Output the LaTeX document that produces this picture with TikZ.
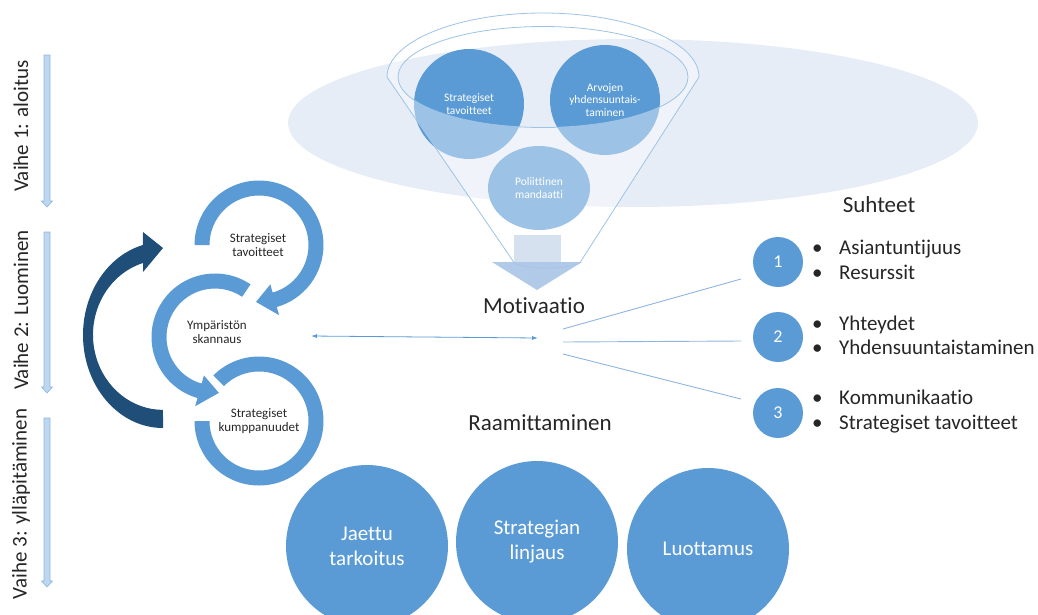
\documentclass[tikz,border=0pt]{standalone}
\usepackage{fontspec}
\setmainfont{Carlito}[Ligatures=NoCommon]
\usetikzlibrary{calc,arrows.meta}
\definecolor{mainblue}{HTML}{5B9BD5}
\definecolor{paleblue}{HTML}{9DC3E6}
\definecolor{hazeblue}{HTML}{E6EDF7}
\definecolor{darkblue}{HTML}{1F4E79}
\definecolor{inkgray}{HTML}{262626}
\definecolor{stemfill}{HTML}{BDD7EE}
\definecolor{stemline}{HTML}{8FB4E3}
\definecolor{spoutbody}{HTML}{D2DEEF}
\definecolor{spouthead}{HTML}{A9C4E6}

% circular band with an arrow head: cx, cy, mid radius, half width, start, head base, tip, half head
\newcommand{\ringarrow}[8]{%
  \fill[mainblue] ($(#1,#2)+(#5:{#3+#4})$)
    arc[start angle=#5, end angle=#6, radius={#3+#4}]
    -- ($(#1,#2)+(#6:{#3+#8})$) -- ($(#1,#2)+(#7:#3)$) -- ($(#1,#2)+(#6:{#3-#8})$)
    -- ($(#1,#2)+(#6:{#3-#4})$)
    arc[start angle=#6, end angle=#5, radius={#3-#4}] -- cycle;}
% circular band without a head: cx, cy, mid radius, half width, start, end
\newcommand{\ringband}[6]{%
  \fill[mainblue] ($(#1,#2)+(#5:{#3+#4})$)
    arc[start angle=#5, end angle=#6, radius={#3+#4}]
    -- ($(#1,#2)+(#6:{#3-#4})$)
    arc[start angle=#6, end angle=#5, radius={#3-#4}] -- cycle;}
% thin downward phase arrow: x, top, bottom
\newcommand{\phasearrow}[3]{%
  \filldraw[fill=stemfill, draw=stemline, line width=0.6pt]
    (#1-3,#2) -- (#1+3,#2) -- (#1+3,#3-6) -- (#1+5.5,#3-6) -- (#1,#3)
    -- (#1-5.5,#3-6) -- (#1-3,#3-6) -- cycle;}

\begin{document}
\begin{tikzpicture}[x=1pt,y=-1pt,
  phase/.style={rotate=90, text=inkgray, font=\fontsize{21}{25}\selectfont},
  bigword/.style={text=inkgray, font=\fontsize{23}{27}\selectfont},
  balltext/.style={text=white, align=center, font=\fontsize{11.5}{12.5}\selectfont},
  ringtext/.style={text=inkgray, align=center, font=\fontsize{13}{14}\selectfont},
  numball/.style={circle, fill=mainblue, minimum size=50pt, inner sep=0pt,
    text=white, font=\fontsize{18}{20}\selectfont},
  bigball/.style={circle, fill=mainblue, minimum size=162pt, inner sep=0pt,
    text=white, align=center, font=\fontsize{21}{25}\selectfont},
  bullet/.style={anchor=base west, inner sep=0pt, text=inkgray,
    font=\fontsize{21}{25}\selectfont},
  spoke/.style={draw=stemline, line width=0.9pt},
]
\useasboundingbox (0,0) rectangle (1038,614);

% ---- backdrop haze behind the funnel
\fill[hazeblue] (633,123) ellipse[x radius=345, y radius=84];

% ---- balls inside the funnel
\fill[mainblue] (469,104) circle[radius=55];
\fill[mainblue] (605,100) circle[radius=55];
\fill[mainblue] (539,188) ellipse[x radius=51, y radius=42];

% ---- funnel front (translucent) and outline
\path[fill=white, fill opacity=0.4, even odd rule]
  (387,77) arc[start angle=180, end angle=360, x radius=156, y radius=64]
  -- (581,261) arc[start angle=0, end angle=180, x radius=34, y radius=7]
  -- cycle
  (543,77) ellipse[x radius=145, y radius=50.5];
\draw[paleblue, line width=0.8pt]
  (387,77) arc[start angle=180, end angle=360, x radius=156, y radius=64]
  -- (581,261) arc[start angle=0, end angle=180, x radius=34, y radius=7]
  -- cycle;
\draw[paleblue, line width=0.8pt] (543,77) ellipse[x radius=145, y radius=50.5];

% ---- labels of the funnel balls
\node[balltext, font=\fontsize{11.5}{13}\selectfont] (fst) at (469,104) {Strategiset\\tavoitteet};
\node[balltext] (fav) at (605,100) {Arvojen\\yhdensuuntais-\\taminen};
\node[balltext] (fpm) at (539,188) {Poliittinen\\mandaatti};

% ---- spout arrow under the funnel
\fill[spoutbody, fill opacity=0.9] (514,235) rectangle (561,262);
\fill[spouthead, fill opacity=0.9] (492,262) -- (582,262) -- (537,290) -- cycle;

% ---- centre words
\node[bigword, anchor=base] (motiv) at (534,313) {Motivaatio};
\node[bigword, anchor=base] (raami) at (540,430) {Raamittaminen};

% ---- phase labels and arrows
\node[phase] (v1) at (21,126) {Vaihe 1: aloitus};
\node[phase] (v2) at (21,310) {Vaihe 2: Luominen};
\node[phase] (v3) at (21,504) {Vaihe 3: ylläpitäminen};
\phasearrow{47}{55}{207}
\phasearrow{47}{232}{393}
\phasearrow{47}{418}{587}

% ---- cycle of three circular arrows
\ringarrow{259}{245}{57}{7.5}{180}{434}{453}{16}
\ringarrow{215}{337}{56}{7.5}{304}{106}{86}{16}
\ringband{259}{421}{57}{7.5}{180}{-135}
\node[ringtext] (rt) at (258,245) {Strategiset\\tavoitteet};
\node[ringtext] (rm) at (217,332) {Ympäristön\\skannaus};
\node[ringtext] (rb) at (259,421) {Strategiset\\kumppanuudet};

% ---- large return arrow
\fill[darkblue] (163,428) arc[start angle=90, end angle=255.5, x radius=80, y radius=93]
  -- (143,232) -- (163,248) -- (143,272) -- (143,263)
  arc[start angle=253.4, end angle=90, x radius=70, y radius=75] -- cycle;

% ---- two-way link
\coordinate (linkL) at (311,336);
\coordinate (linkR) at (538,338);
\draw[mainblue, line width=0.8pt, {Latex[length=6pt,width=4pt]}-{Latex[length=6pt,width=4pt]}] (linkL) -- (linkR);

% ---- relations
\node[bigword, anchor=base] (suht) at (879,212) {Suhteet};
\node[numball] (n1) at (778,262) {1};
\node[numball] (n2) at (778,337) {2};
\node[numball] (n3) at (778,413) {3};
\coordinate (hub1) at (563,329);
\coordinate (hub2) at (563,342);
\coordinate (hub3) at (563,354);
\coordinate (end1) at (741,279);
\coordinate (end2) at (741,341);
\coordinate (end3) at (741,399);
\draw[spoke] (hub1) -- (end1);
\draw[spoke] (hub2) -- (end2);
\draw[spoke] (hub3) -- (end3);

\node[bullet] (b1) at (812,254) {\makebox[27pt][l]{\textbullet}Asiantuntijuus};
\node[bullet] (b2) at (812,279) {\makebox[27pt][l]{\textbullet}Resurssit};
\node[bullet] (b3) at (812,330) {\makebox[27pt][l]{\textbullet}Yhteydet};
\node[bullet] (b4) at (812,354) {\makebox[27pt][l]{\textbullet}Yhdensuuntaistaminen};
\node[bullet] (b5) at (812,404) {\makebox[27pt][l]{\textbullet}Kommunikaatio};
\node[bullet] (b6) at (812,429) {\makebox[27pt][l]{\textbullet}Strategiset tavoitteet};

% ---- framing circles
\node[bigball] (jaettu) at (367,546) {Jaettu\\tarkoitus};
\node[bigball] (linja) at (537,542) {Strategian\\linjaus};
\node[bigball] (luotto) at (708,549) {Luottamus};
\end{tikzpicture}
\end{document}
